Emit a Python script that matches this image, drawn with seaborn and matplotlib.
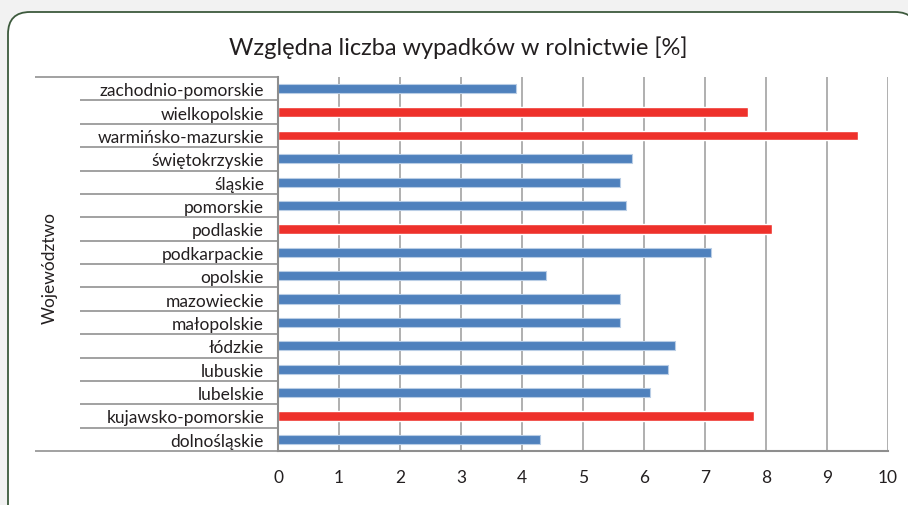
import numpy as np
import pandas as pd
import seaborn as sns
import matplotlib.pyplot as plt
from matplotlib.patches import FancyBboxPatch
from matplotlib.transforms import blended_transform_factory, IdentityTransform

# data (top to bottom as in the chart)
voivodeships = ['zachodnio-pomorskie', 'wielkopolskie', 'warmińsko-mazurskie',
                'świętokrzyskie', 'śląskie', 'pomorskie', 'podlaskie',
                'podkarpackie', 'opolskie', 'mazowieckie', 'małopolskie',
                'łódzkie', 'lubuskie', 'lubelskie', 'kujawsko-pomorskie',
                'dolnośląskie']
accident_pct = [3.9, 7.7, 9.5, 5.8, 5.6, 5.7, 8.1, 7.1, 4.4, 5.6, 5.6,
                6.5, 6.4, 6.1, 7.8, 4.3]
highlighted = ['wielkopolskie', 'warmińsko-mazurskie', 'podlaskie',
               'kujawsko-pomorskie']
x_ticks = list(range(0, 11))

title = 'Względna liczba wypadków w rolnictwie [%]'
y_title = 'Województwo'

BLUE = '#4f81bd'
RED = '#ee312b'
GRID = '#a9a9a9'
TEXT = '#231f20'

df = pd.DataFrame({'woj': voivodeships, 'val': accident_pct})
palette = {w: (RED if w in highlighted else BLUE) for w in voivodeships}

sns.set_style('white')
plt.rcParams['font.family'] = ['Lato', 'DejaVu Sans']

W, H = 908, 506
fig = plt.figure(figsize=(W / 100, H / 100), dpi=100, facecolor='#f2f2f2')

# rounded white frame (pixel coords, origin bottom-left)
frame = FancyBboxPatch((8, -25), 917 - 8, H - 13 + 25,
                       boxstyle='round,pad=0,rounding_size=22',
                       transform=IdentityTransform(), facecolor='white',
                       edgecolor='#3d5a3d', linewidth=1.3, zorder=-5)
fig.patches.append(frame)

# plot area in pixels
left, right, top, bottom = 278, 888, 78, 452
ax = fig.add_axes([left / W, (H - bottom) / H, (right - left) / W, (bottom - top) / H])
ax.set_facecolor('none')

sns.barplot(data=df, x='val', y='woj', hue='woj', palette=palette, orient='h',
            width=0.4, legend=False, ax=ax, saturation=1)

for bar, w in zip(ax.patches, voivodeships):
    if w not in highlighted:
        bar.set_edgecolor('#b9cde5')
        bar.set_linewidth(0.8)

ax.set_xlim(0, 10)
ax.set_ylim(len(voivodeships) - 0.5, -0.5)
ax.set_xticks(x_ticks)
ax.set_xticklabels([str(t) for t in x_ticks], fontsize=12.5, color=TEXT)
ax.xaxis.grid(True, color=GRID, linewidth=1.3)
ax.set_axisbelow(True)
ax.tick_params(axis='x', length=5, width=1.3, color=GRID, pad=8)
ax.tick_params(axis='y', length=0, pad=10, labelsize=12.5, labelcolor=TEXT)
ax.set_xlabel('')
ax.set_ylabel('')

for s in ['top', 'right']:
    ax.spines[s].set_visible(False)
for s in ['left', 'bottom']:
    ax.spines[s].set_color('#8e8e8e')
    ax.spines[s].set_linewidth(1.5)

# category table lines on the left
trans = blended_transform_factory(ax.transAxes, ax.transData)
x_sep = (80 - left) / (right - left)
x_outer = (35 - left) / (right - left)
bounds = np.arange(len(voivodeships) - 1) + 0.5
ax.hlines(bounds, x_sep, 0, transform=trans, color='#9a9a9a', lw=1.3, clip_on=False)
ax.hlines([-0.5, len(voivodeships) - 0.5], x_outer, 0, transform=trans,
          color='#9a9a9a', lw=1.3, clip_on=False)

fig.text(458 / W, 1 - 48 / H, title, ha='center', va='center', fontsize=17, color=TEXT)
fig.text(50 / W, 1 - 268 / H, y_title, ha='center', va='center', rotation=90,
         fontsize=12.5, color=TEXT)

fig.savefig('out.png', dpi=100, facecolor=fig.get_facecolor())
